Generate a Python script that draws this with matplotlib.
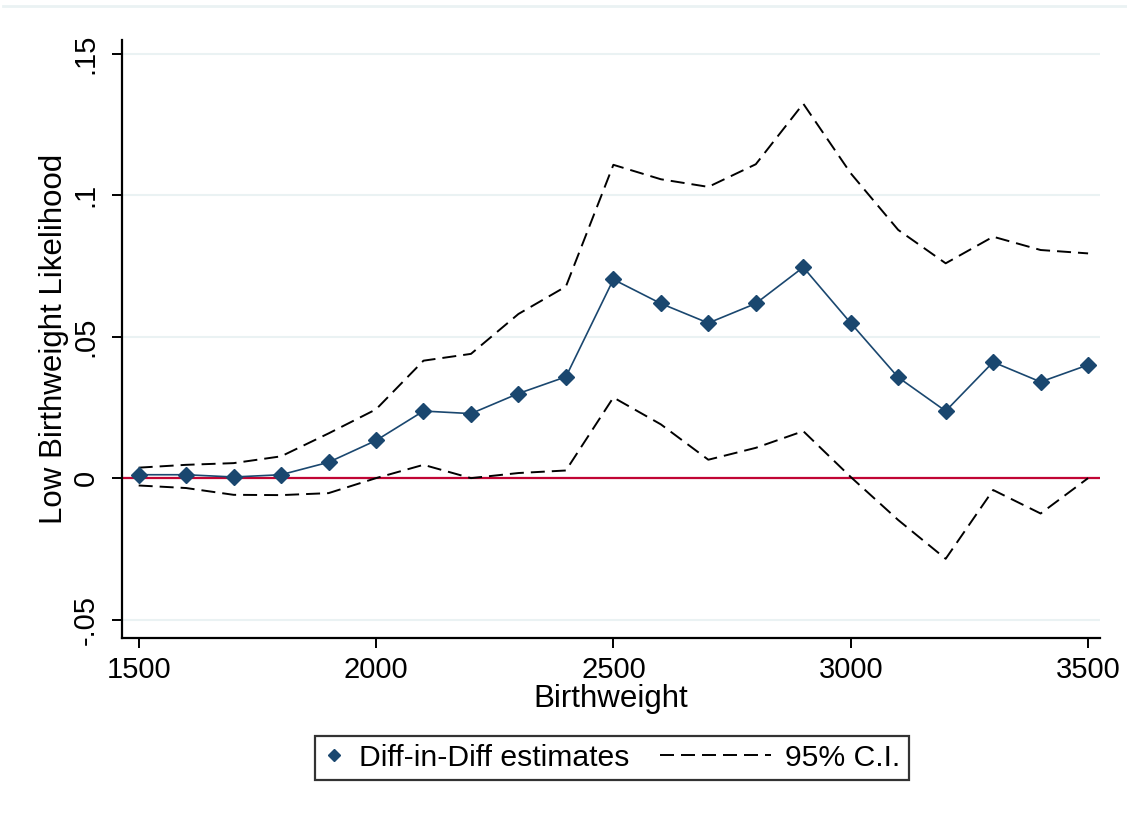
import numpy as np
import matplotlib
matplotlib.use("Agg")
import matplotlib.pyplot as plt
from matplotlib.lines import Line2D
from matplotlib.legend_handler import HandlerLine2D

plt.rcParams['font.family'] = ['Liberation Sans', 'DejaVu Sans']

# birthweight thresholds (grams)
bw = [1500, 1600, 1700, 1800, 1900, 2000, 2100, 2200, 2300, 2400, 2500,
      2600, 2700, 2800, 2900, 3000, 3100, 3200, 3300, 3400, 3500]

# diff-in-diff point estimates
did = [0.0012, 0.0012, 0.0004, 0.0012, 0.0056, 0.0133, 0.0237, 0.0228, 0.0299, 0.0358, 0.0702,
       0.0617, 0.0548, 0.0617, 0.0745, 0.0548, 0.0356, 0.0237, 0.0410, 0.0340, 0.0400]

# 95% confidence bounds
ci_hi = [0.0037, 0.0047, 0.0053, 0.0077, 0.0158, 0.0243, 0.0415, 0.0439, 0.0580, 0.0677, 0.1107,
         0.1056, 0.1029, 0.1109, 0.1323, 0.1077, 0.0877, 0.0759, 0.0853, 0.0806, 0.0794]
ci_lo = [-0.0026, -0.0035, -0.0059, -0.0060, -0.0053, 0.0000, 0.0047, 0.0000, 0.0018, 0.0027, 0.0285,
         0.0190, 0.0065, 0.0107, 0.0166, 0.0004, -0.0148, -0.0285, -0.0042, -0.0125, 0.0000]

yticks = [-0.05, 0, 0.05, 0.1, 0.15]
ylabels = ['-.05', '0', '.05', '.1', '.15']
xticks = [1500, 2000, 2500, 3000, 3500]

navy = '#1a476f'
cranberry = '#c10534'
gridc = '#eaf2f3'
dash = (7.2, 3.6)


class LongDashHandler(HandlerLine2D):
    # stretch the dashed sample leftwards into the column gap
    def create_artists(self, legend, orig_handle, xdescent, ydescent,
                       width, height, fontsize, trans):
        ext = 2.97 * fontsize
        return super().create_artists(legend, orig_handle, xdescent + ext, ydescent,
                                      width + ext, height, fontsize, trans)


fig = plt.figure(figsize=(11.27, 8.18), dpi=100)
ax = fig.add_axes([0.1083, 0.22, 0.8677, 0.7311])

for t in yticks:
    ax.axhline(t, color=gridc, lw=1.5, zorder=0)
ax.axhline(0, color=cranberry, lw=1.6, zorder=2)

ax.plot(bw, ci_hi, color='black', lw=1.4, dashes=dash, zorder=3)
ax.plot(bw, ci_lo, color='black', lw=1.4, dashes=dash, zorder=3)
ax.plot(bw, did, color=navy, lw=1.2, marker='D', ms=8, mew=1, mec=navy, mfc=navy, zorder=4)

ax.set_xlim(1465, 3525)
ax.set_ylim(-0.0565, 0.1548)
ax.set_xticks(xticks)
ax.set_xticklabels([str(x) for x in xticks])
ax.set_yticks(yticks)
ax.set_yticklabels(ylabels, rotation=90, va='center')

for s in ['top', 'right']:
    ax.spines[s].set_visible(False)
for s in ['left', 'bottom']:
    ax.spines[s].set_linewidth(1.6)
ax.tick_params(axis='both', length=7, width=1.4, labelsize=21, pad=6)
ax.tick_params(axis='y', pad=9)

ax.set_xlabel('Birthweight', fontsize=22.5, labelpad=0)
ax.set_ylabel('Low Birthweight Likelihood', fontsize=22.5, labelpad=2)

handles = [
    Line2D([], [], color=navy, marker='D', ms=6.5, ls='none'),
    Line2D([], [], color='black', lw=1.4, dashes=dash),
]
leg = fig.legend(handles, ['Diff-in-Diff estimates', '95% C.I.'], ncol=2,
                 loc='center', bbox_to_anchor=(0.543, 0.0733), fontsize=21.7,
                 frameon=True, fancybox=False, edgecolor='black',
                 handlelength=0.7, columnspacing=4.0, handletextpad=0.48,
                 borderpad=0.28, borderaxespad=0,
                 handler_map={handles[1]: LongDashHandler()})
leg.get_frame().set_linewidth(1.6)

# faint border line across the top of the graph region
fig.add_artist(Line2D([0.003, 1.0], [1 - 6 / 818, 1 - 6 / 818],
                      transform=fig.transFigure, color=gridc, lw=2))

fig.savefig('out.png', dpi=100)
